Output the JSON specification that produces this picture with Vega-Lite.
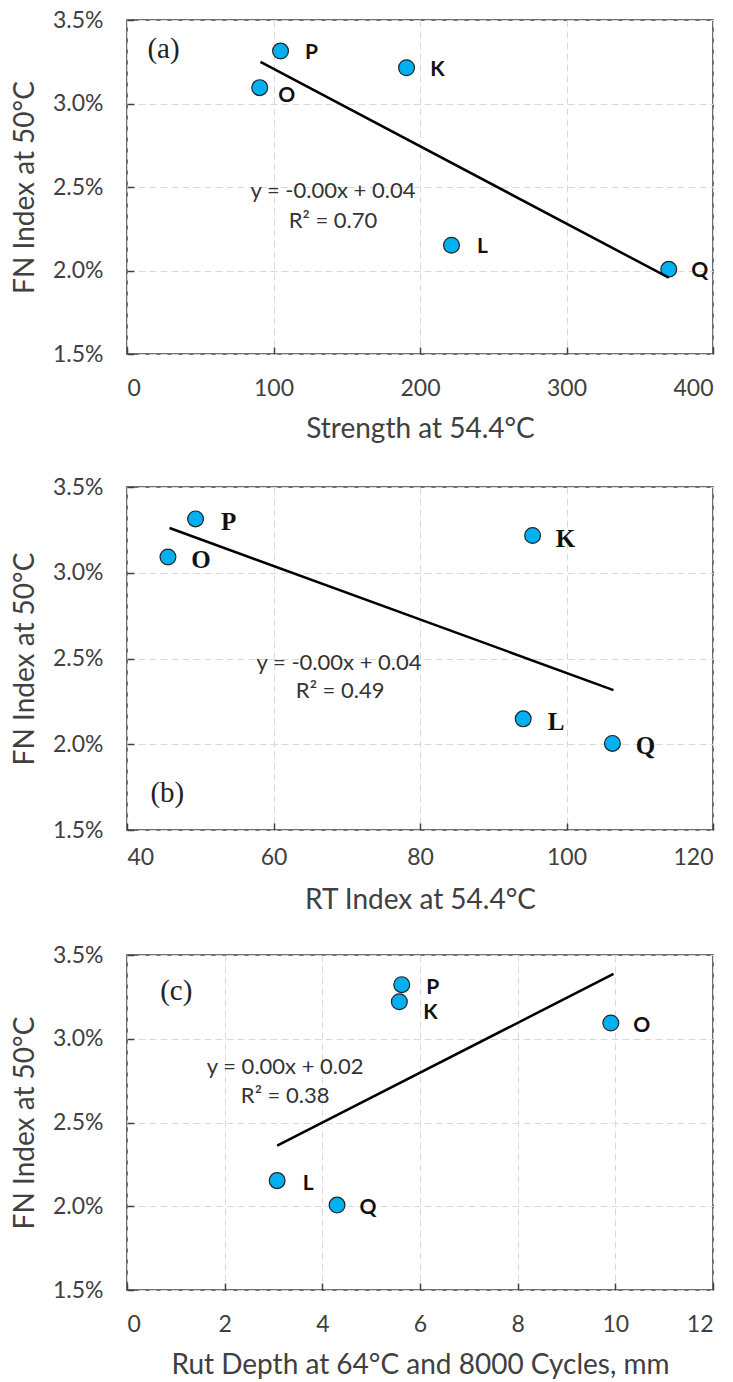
{
  "$schema": "https://vega.github.io/schema/vega-lite/v6.json",
  "background": "white",
  "padding": {"left": 10, "top": 8, "right": 4, "bottom": 4},
  "bounds": "flush",
  "spacing": 133,
  "config": {
    "font": "Lato",
    "view": {"stroke": "#404040", "strokeWidth": 1.5},
    "axis": {
      "labelFont": "Lato", "labelFontSize": 23, "labelColor": "#404040",
      "titleFont": "Lato", "titleFontSize": 28, "titleFontWeight": "normal", "titleColor": "#404040",
      "domain": false, "tickColor": "#404040", "tickWidth": 1.5, "tickSize": -7,
      "gridColor": "#d9d9d9", "gridDash": [7, 4], "gridWidth": 1
    },
    "axisX": {"labelPadding": 30, "titlePadding": 15},
    "axisY": {"labelPadding": 31, "titlePadding": 13}
  },
  "datasets": {
    "pa": [
      {"mix": "P", "x": 104.8, "fn": 0.03314},
      {"mix": "O", "x": 90.6, "fn": 0.03095},
      {"mix": "K", "x": 190.8, "fn": 0.03214},
      {"mix": "L", "x": 221.5, "fn": 0.02151},
      {"mix": "Q", "x": 369.8, "fn": 0.02007}
    ],
    "ta": [{"x": 91.1, "fn": 0.03249}, {"x": 369.8, "fn": 0.01957}],
    "na": [
      {"x": 24.9, "fn": 0.03326, "text": "(a)", "role": "panel"},
      {"x": 140.6, "fn": 0.02476, "text": "y = -0.00x + 0.04", "role": "eq"},
      {"x": 140.6, "fn": 0.02296, "text": "R² = 0.70", "role": "eq"}
    ],
    "pb": [
      {"mix": "P", "x": 49.36, "fn": 0.03314},
      {"mix": "O", "x": 45.59, "fn": 0.03092},
      {"mix": "K", "x": 95.37, "fn": 0.03217},
      {"mix": "L", "x": 94.09, "fn": 0.02148},
      {"mix": "Q", "x": 106.27, "fn": 0.02005}
    ],
    "tb": [{"x": 45.81, "fn": 0.03261}, {"x": 106.41, "fn": 0.02316}],
    "nb": [
      {"x": 45.5, "fn": 0.01717, "text": "(b)", "role": "panel"},
      {"x": 68.95, "fn": 0.02475, "text": "y = -0.00x + 0.04", "role": "eq"},
      {"x": 69.1, "fn": 0.0231, "text": "R² = 0.49", "role": "eq"}
    ],
    "pc": [
      {"mix": "P", "x": 5.626, "fn": 0.03323},
      {"mix": "K", "x": 5.577, "fn": 0.03221},
      {"mix": "O", "x": 9.908, "fn": 0.03094},
      {"mix": "L", "x": 3.075, "fn": 0.02153},
      {"mix": "Q", "x": 4.302, "fn": 0.02007}
    ],
    "tc": [{"x": 3.075, "fn": 0.02362}, {"x": 9.963, "fn": 0.03387}],
    "nc": [
      {"x": 1.009, "fn": 0.03287, "text": "(c)", "role": "panel"},
      {"x": 3.239, "fn": 0.02829, "text": "y = 0.00x + 0.02", "role": "eq"},
      {"x": 3.239, "fn": 0.0266, "text": "R² = 0.38", "role": "eq"}
    ]
  },
  "vconcat": [
    {
      "width": 586, "height": 334,
      "encoding": {
        "x": {"field": "x", "type": "quantitative", "scale": {"domain": [0, 400], "nice": false}, "axis": {"values": [0, 100, 200, 300, 400], "title": "Strength at 54.4°C"}},
        "y": {"field": "fn", "type": "quantitative", "scale": {"domain": [0.015, 0.035], "nice": false, "zero": false}, "axis": {"values": [0.015, 0.02, 0.025, 0.03, 0.035], "format": ".1%", "title": "FN Index at 50°C"}}
      },
      "layer": [
        {"data": {"name": "pa"}, "mark": {"type": "circle", "size": 250, "fill": "#00B0F0", "stroke": "#222222", "strokeWidth": 1.2, "opacity": 1}},
        {"data": {"name": "pa"}, "transform": [{"filter": "datum.mix != 'O'"}], "mark": {"type": "text", "font": "Lato", "fontWeight": "bold", "fontSize": 21, "color": "#111111", "dx": 31, "dy": 2, "align": "center", "baseline": "middle"}, "encoding": {"text": {"field": "mix"}}},
        {"data": {"name": "pa"}, "transform": [{"filter": "datum.mix == 'O'"}], "mark": {"type": "text", "font": "Lato", "fontWeight": "bold", "fontSize": 21, "color": "#111111", "dx": 27, "dy": 8, "align": "center", "baseline": "middle"}, "encoding": {"text": {"field": "mix"}}},
        {"data": {"name": "ta"}, "mark": {"type": "line", "color": "#000000", "strokeWidth": 2.5}},
        {"data": {"name": "na"}, "transform": [{"filter": "datum.role == 'eq'"}], "mark": {"type": "text", "font": "Lato", "fontSize": 22, "color": "#333333", "align": "center", "baseline": "middle"}, "encoding": {"text": {"field": "text"}}},
        {"data": {"name": "na"}, "transform": [{"filter": "datum.role == 'panel'"}], "mark": {"type": "text", "font": "Liberation Serif", "fontSize": 29, "color": "#222222", "align": "center", "baseline": "middle"}, "encoding": {"text": {"field": "text"}}}
      ]
    },
    {
      "bounds": "flush",
      "spacing": 125,
      "vconcat": [
        {
          "width": 586, "height": 343,
          "encoding": {
            "x": {"field": "x", "type": "quantitative", "scale": {"domain": [40, 120], "nice": false, "zero": false}, "axis": {"values": [40, 60, 80, 100, 120], "title": "RT Index at 54.4°C", "labelPadding": 23, "titlePadding": 17}},
            "y": {"field": "fn", "type": "quantitative", "scale": {"domain": [0.015, 0.035], "nice": false, "zero": false}, "axis": {"values": [0.015, 0.02, 0.025, 0.03, 0.035], "format": ".1%", "title": "FN Index at 50°C"}}
          },
          "layer": [
            {"data": {"name": "pb"}, "mark": {"type": "circle", "size": 250, "fill": "#00B0F0", "stroke": "#222222", "strokeWidth": 1.2, "opacity": 1}},
            {"data": {"name": "pb"}, "mark": {"type": "text", "font": "Liberation Serif", "fontWeight": "bold", "fontSize": 25, "color": "#111111", "dx": 33, "dy": 3, "align": "center", "baseline": "middle"}, "encoding": {"text": {"field": "mix"}}},
            {"data": {"name": "tb"}, "mark": {"type": "line", "color": "#000000", "strokeWidth": 2.5}},
            {"data": {"name": "nb"}, "transform": [{"filter": "datum.role == 'eq'"}], "mark": {"type": "text", "font": "Lato", "fontSize": 22, "color": "#333333", "align": "center", "baseline": "middle"}, "encoding": {"text": {"field": "text"}}},
            {"data": {"name": "nb"}, "transform": [{"filter": "datum.role == 'panel'"}], "mark": {"type": "text", "font": "Liberation Serif", "fontSize": 29, "color": "#222222", "align": "center", "baseline": "middle"}, "encoding": {"text": {"field": "text"}}}
          ]
        },
        {
          "width": 586, "height": 335,
          "encoding": {
            "x": {"field": "x", "type": "quantitative", "scale": {"domain": [0, 12], "nice": false}, "axis": {"values": [0, 2, 4, 6, 8, 10, 12], "title": "Rut Depth at 64°C and 8000 Cycles, mm"}},
            "y": {"field": "fn", "type": "quantitative", "scale": {"domain": [0.015, 0.035], "nice": false, "zero": false}, "axis": {"values": [0.015, 0.02, 0.025, 0.03, 0.035], "format": ".1%", "title": "FN Index at 50°C"}}
          },
          "layer": [
            {"data": {"name": "pc"}, "mark": {"type": "circle", "size": 250, "fill": "#00B0F0", "stroke": "#222222", "strokeWidth": 1.2, "opacity": 1}},
            {"data": {"name": "pc"}, "transform": [{"filter": "datum.mix != 'K'"}], "mark": {"type": "text", "font": "Lato", "fontWeight": "bold", "fontSize": 21, "color": "#111111", "dx": 31, "dy": 3, "align": "center", "baseline": "middle"}, "encoding": {"text": {"field": "mix"}}},
            {"data": {"name": "pc"}, "transform": [{"filter": "datum.mix == 'K'"}], "mark": {"type": "text", "font": "Lato", "fontWeight": "bold", "fontSize": 21, "color": "#111111", "dx": 31, "dy": 11, "align": "center", "baseline": "middle"}, "encoding": {"text": {"field": "mix"}}},
            {"data": {"name": "tc"}, "mark": {"type": "line", "color": "#000000", "strokeWidth": 2.5}},
            {"data": {"name": "nc"}, "transform": [{"filter": "datum.role == 'eq'"}], "mark": {"type": "text", "font": "Lato", "fontSize": 22, "color": "#333333", "align": "center", "baseline": "middle"}, "encoding": {"text": {"field": "text"}}},
            {"data": {"name": "nc"}, "transform": [{"filter": "datum.role == 'panel'"}], "mark": {"type": "text", "font": "Liberation Serif", "fontSize": 29, "color": "#222222", "align": "center", "baseline": "middle"}, "encoding": {"text": {"field": "text"}}}
          ]
        }
      ]
    }
  ]
}
